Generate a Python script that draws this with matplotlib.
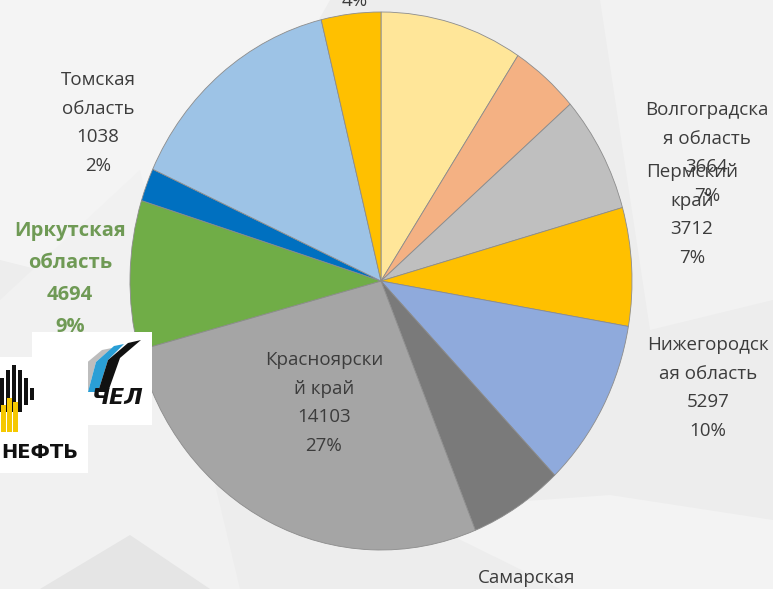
import matplotlib.pyplot as plt
from matplotlib.patches import Rectangle, Polygon

# slices clockwise from 12 o'clock; labels wrapped the way the slide wraps them
labels = ["", "", "Волгоградска\nя область", "Пермский\nкрай", "Нижегородск\nая область",
          "Самарская\nобласть", "Красноярски\nй край", "Иркутская\nобласть", "Томская\nобласть",
          "", ""]
values = [4800, 2300, 3664, 3712, 5297, 3150, 14103, 4694, 1038, 7500, 2000]
colors = ["#FFE699", "#F4B183", "#BFBFBF", "#FFC000", "#8FAADC", "#7A7A7A",
          "#A5A5A5", "#70AD47", "#0070C0", "#9DC3E6", "#FFC000"]

# where each data label sits (pixel coords of the slide), None = not visible
label_pos = [None, None, (707, 153), (692, 215), (708, 388), (527, 621),
             (324, 403), (70, 279), (98, 123), None, (355, 1)]

W, H = 773, 589
fig = plt.figure(figsize=(W / 100, H / 100), dpi=100, facecolor="#ededed")

# background layer (soft geometric slide backdrop)
bg = fig.add_axes([0, 0, 1, 1])
bg.set_xlim(0, W)
bg.set_ylim(H, 0)
bg.axis("off")
bg.add_patch(Polygon([(0, 0), (330, 0), (160, 300), (0, 260)], color="#f4f4f4", lw=0))
bg.add_patch(Polygon([(0, 300), (140, 170), (240, 589), (0, 589)], color="#f1f1f1", lw=0))
bg.add_patch(Polygon([(600, 0), (773, 0), (773, 300), (650, 330)], color="#f2f2f2", lw=0))
bg.add_patch(Polygon([(40, 589), (130, 535), (210, 589)], color="#e5e5e5", lw=0))
bg.add_patch(Polygon([(400, 510), (610, 495), (773, 520), (773, 589), (560, 589)],
                     color="#f3f3f3", lw=0))

# pie (slightly taller than wide, like the stretched slide image)
px0, py0, px1, py1 = 130, 12, 632, 550
pie_ax = fig.add_axes([px0 / W, 1 - py1 / H, (px1 - px0) / W, (py1 - py0) / H])
pie_ax.pie(values, colors=colors, startangle=90, counterclock=False, radius=1,
           wedgeprops=dict(edgecolor="#8c8c8c", linewidth=0.6))
pie_ax.set_aspect("auto")
pie_ax.set_xlim(-1, 1)
pie_ax.set_ylim(-1, 1)
pie_ax.axis("off")

# labels + logos on top
top = fig.add_axes([0, 0, 1, 1], zorder=5)
top.set_xlim(0, W)
top.set_ylim(H, 0)
top.axis("off")
top.patch.set_alpha(0)

total = sum(values)
for name, v, pos in zip(labels, values, label_pos):
    if pos is None:
        continue
    pct = round(v / total * 100)
    if name == "":
        txt = f"{pct}%"
    else:
        txt = f"{name}\n{v}\n{pct}%"
    if name.startswith("Иркутская"):
        top.text(pos[0], pos[1], txt, ha="center", va="center", fontsize=14.5,
                 fontweight="bold", color="#6f9a55", family="Open Sans", linespacing=1.82)
    else:
        top.text(pos[0], pos[1], txt, ha="center", va="center", fontsize=13.5,
                 color="#3c3c3c", family="Open Sans", linespacing=1.75)

# Мечел logo box
top.add_patch(Rectangle((32, 332), 120, 93, color="white", lw=0))
top.add_patch(Polygon([(78, 392), (84, 365), (102, 350), (112, 348), (96, 362), (88, 392)],
                      color="#bdbdbd", lw=0))
top.add_patch(Polygon([(88, 392), (96, 362), (114, 346), (124, 344), (108, 360), (98, 392)],
                      color="#2a9fd6", lw=0))
top.add_patch(Polygon([(98, 392), (108, 360), (128, 343), (141, 340), (120, 358), (108, 392)],
                      color="#111111", lw=0))
top.text(118, 398, "ЧЕЛ", ha="center", va="center", fontsize=16, fontweight="bold",
         style="italic", color="#111111", family="DejaVu Sans")

# Роснефть logo box
top.add_patch(Rectangle((0, 357), 88, 116, color="white", lw=0))
for x, y0, y1 in [(0, 378, 412), (6, 370, 412), (12, 365, 412), (18, 370, 412), (24, 378, 405),
                  (30, 388, 400)]:
    top.add_patch(Rectangle((x, y0), 3.5, y1 - y0, color="#111111", lw=0))
for x, y0 in [(1, 405), (7, 398), (13, 402)]:
    top.add_patch(Rectangle((x, y0), 5, 432 - y0, color="#f5c800", lw=0))
top.text(40, 452, "НЕФТЬ", ha="center", va="center", fontsize=14, fontweight="bold",
         color="#111111", family="DejaVu Sans")

fig.savefig("out.png", dpi=100, facecolor=fig.get_facecolor())
